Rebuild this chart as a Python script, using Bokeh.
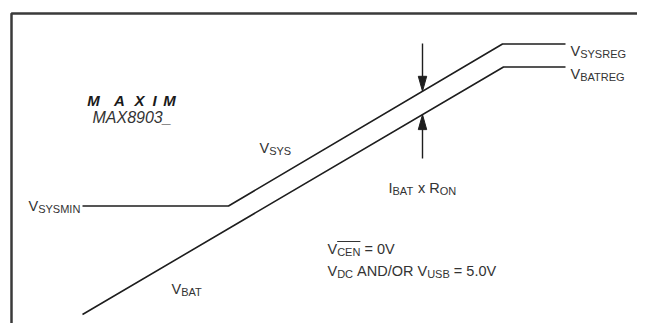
import numpy as np
from bokeh.plotting import figure
from bokeh.models import Range1d
from bokeh.core.properties import value
from bokeh.embed import file_html
from bokeh.resources import INLINE

# ---- diagram data (diagram units, y increases downward) ----
vsys_x = [82, 228, 502, 565]
vsys_y = [205.5, 205.5, 43.5, 43.5]
vbat_x = [82, 503, 565]
vbat_y = [314, 66.5, 66.5]

arrow_x = 422
down_arrow_top = 43
up_arrow_bottom = 158

frame_x = [637, 11, 11]
frame_y = [13, 13, 323]

# labels: segments of (text, is_subscript), anchor x, baseline y
label_segments = [
    [("V", 0), ("SYSREG", 1)],
    [("V", 0), ("BATREG", 1)],
    [("V", 0), ("SYS", 1)],
    [("V", 0), ("SYSMIN", 1)],
    [("V", 0), ("BAT", 1)],
    [("I", 0), ("BAT", 1), (" x ", 0), ("R", 0), ("ON", 1)],
    [("V", 0), ("CEN", 1), (" = 0V", 0)],
    [("V", 0), ("DC", 1), (" AND/OR ", 0), ("V", 0), ("USB", 1), (" = 5.0V", 0)],
]
label_x = [570, 570, 259, 28, 171, 388, 327, 327]
label_y = [50.5, 73.5, 147, 205, 288, 187, 248, 270]
overlined = ("CEN",)

logo_letters = ["M", "A", "X", "I", "M"]
logo_x = [93, 119, 139, 154, 169]
logo_y = 100
part_text = "MAX8903_"
part_x = 92
part_y = 116.5

FONT = "Liberation Sans"
TXT = "#333333"
LINE = "#1e1e1e"
MAIN_PX = 14.5
SUB_PX = 11.0
SUB_DROP = 3.0

# Arial/Liberation Sans advance widths (em)
CW = {"V": .667, "S": .667, "Y": .667, "R": .722, "E": .667, "G": .778, "B": .667,
      "A": .667, "T": .611, "M": .833, "I": .278, "N": .722, "x": .5, "O": .778,
      "C": .722, "D": .722, "U": .722, " ": .278, "=": .584, "0": .556, "5": .556,
      ".": .278, "/": .278}


def text_width(s, px):
    return sum(CW.get(c, .6) for c in s) * px


main_t, main_xs, main_ys = [], [], []
sub_t, sub_xs, sub_ys = [], [], []
over_xs, over_ys = [], []
for segs, x0, y0 in zip(label_segments, label_x, label_y):
    x = x0
    for s, is_sub in segs:
        px = SUB_PX if is_sub else MAIN_PX
        lead = len(s) - len(s.lstrip(" "))
        core = s.strip(" ")
        xs = x + text_width(" " * lead, px)
        if is_sub:
            sub_t.append(core); sub_xs.append(xs); sub_ys.append(y0 + SUB_DROP)
            if core in overlined:
                over_xs.append([xs, xs + text_width(core, px)])
                over_ys.append([y0 + SUB_DROP - 10.0] * 2)
        else:
            main_t.append(core); main_xs.append(xs); main_ys.append(y0)
        x += text_width(s, px)

p = figure(width=637, height=323, x_range=Range1d(0, 637), y_range=Range1d(323, 0),
           output_backend="svg", toolbar_location=None, min_border=0)
p.axis.visible = False
p.grid.visible = False
p.outline_line_color = None
p.background_fill_color = "white"
p.border_fill_color = "white"

# frame
p.line(frame_x, frame_y, line_color="#3a3a3a", line_width=2.5)

# curves
p.line(vsys_x, vsys_y, line_color=LINE, line_width=1.6)
p.line(vbat_x, vbat_y, line_color=LINE, line_width=1.6)

# arrows
down_tip = float(np.interp(arrow_x, vsys_x, vsys_y))
up_tip = float(np.interp(arrow_x, vbat_x, vbat_y))
head_len, head_half = 15, 4.2
p.line([arrow_x, arrow_x], [down_arrow_top, down_tip - head_len + 1], line_color=LINE, line_width=1.4)
p.line([arrow_x, arrow_x], [up_arrow_bottom, up_tip + head_len - 1], line_color=LINE, line_width=1.4)
p.patch([arrow_x - head_half, arrow_x + head_half, arrow_x],
        [down_tip - head_len, down_tip - head_len, down_tip], fill_color=LINE, line_color=LINE)
p.patch([arrow_x - head_half, arrow_x + head_half, arrow_x],
        [up_tip + head_len, up_tip + head_len, up_tip], fill_color=LINE, line_color=LINE)

# labels
p.text(x=main_xs, y=main_ys, text=main_t, text_font=value(FONT), text_font_size=f"{MAIN_PX}px",
       text_color=TXT, text_align="left", text_baseline="alphabetic")
p.text(x=sub_xs, y=sub_ys, text=sub_t, text_font=value(FONT), text_font_size=f"{SUB_PX}px",
       text_color=TXT, text_align="left", text_baseline="alphabetic")
p.multi_line(over_xs, over_ys, line_color=TXT, line_width=1.0)

# logo
p.text(x=logo_x, y=[logo_y] * len(logo_x), text=logo_letters, text_font=value("Liberation Sans"),
       text_font_size="15px", text_font_style="bold italic", text_color="#1a1a1a",
       text_align="center", text_baseline="alphabetic")
p.text(x=[part_x], y=[part_y], text=[part_text], text_font=value(FONT), text_font_size="16px",
       text_font_style="italic", text_color=TXT, text_align="left", text_baseline="alphabetic")

open("out.html", "w").write(file_html(p, INLINE))
